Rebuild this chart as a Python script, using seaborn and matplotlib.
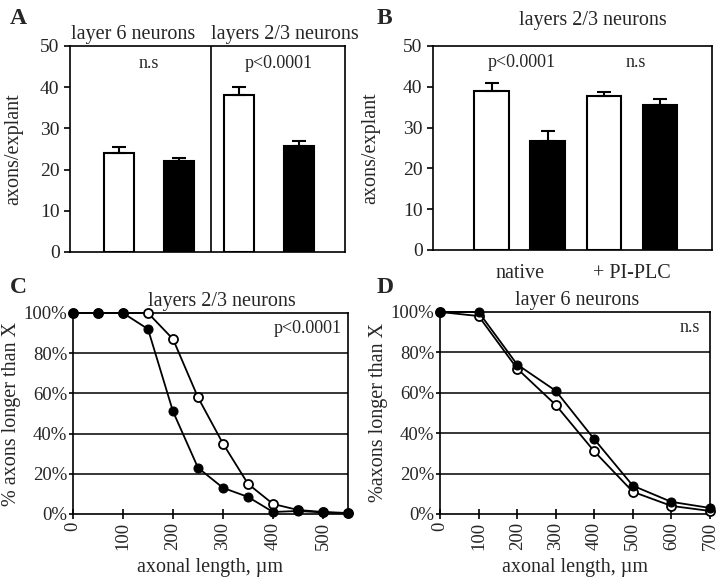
import numpy as np
import pandas as pd
import matplotlib
matplotlib.use('Agg')
import matplotlib.pyplot as plt
import seaborn as sns

# Panel A: axons per explant, layer 6 vs layers 2/3 (white = control, black = treated)
a_labels = ['L6 control', 'L6 treated', 'L2/3 control', 'L2/3 treated']
a_means = [24.0, 22.0, 38.0, 25.8]
a_err = [1.4, 0.7, 2.0, 1.1]
a_colors = ['white', 'black', 'white', 'black']

# Panel B: layers 2/3, native vs PI-PLC
b_labels = ['native control', 'native treated', 'PI-PLC control', 'PI-PLC treated']
b_means = [39.0, 26.7, 37.8, 35.5]
b_err = [2.0, 2.5, 1.0, 1.6]
b_colors = ['white', 'black', 'white', 'black']

# Panel C: layers 2/3 cumulative axon length
c_len = [0, 50, 100, 150, 200, 250, 300, 350, 400, 450, 500, 550]
c_white = [100, 100, 100, 100, 87, 58, 35, 15, 5, 2, 1, 0.5]
c_black = [100, 100, 100, 92, 51, 23, 13, 8.5, 1, 1.5, 0.8, 0.3]

# Panel D: layer 6 cumulative axon length
d_len = [0, 100, 200, 300, 400, 500, 600, 700]
d_white = [100, 98, 72, 54, 31, 11, 4, 1.5]
d_black = [100, 100, 74, 61, 37, 14, 6, 3]

sns.set_style('ticks')
plt.rcParams['font.family'] = ['Liberation Serif', 'DejaVu Serif']
plt.rcParams['axes.linewidth'] = 1.2
plt.rcParams['mathtext.fontset'] = 'stix'

fig = plt.figure(figsize=(7.2, 5.85), dpi=100)
W, H = 720, 585


def box(x0, y0, x1, y1):
    return [x0 / W, 1 - y1 / H, (x1 - x0) / W, (y1 - y0) / H]


def bar_panel(ax, labels, means, errs, colors, width):
    sns.barplot(x=labels, y=means, hue=labels, palette=colors, edgecolor='black',
                linewidth=1.5, width=width, legend=False, ax=ax, errorbar=None)
    pos = np.arange(len(means))
    ax.errorbar(pos, means, yerr=[np.zeros(len(errs)), errs], fmt='none',
                ecolor='black', elinewidth=1.5, capsize=5, capthick=1.5, zorder=1)
    ax.set_ylim(0, 50)
    ax.set_yticks([0, 10, 20, 30, 40, 50])
    ax.tick_params(axis='y', labelsize=14, direction='out', length=4, width=1.2, color='black')
    ax.set_ylabel('axons/explant', fontsize=14.5)
    for s in ax.spines.values():
        s.set_visible(True)
        s.set_color('black')


# ---- A ----
axA = fig.add_axes(box(70, 46, 345, 252))
bar_panel(axA, a_labels, a_means, a_err, a_colors, 0.5)
axA.set_xlim(-0.82, 3.77)
axA.set_xticks([])
axA.axvline(1.53, color='black', lw=1.2)
axA.yaxis.labelpad = 12
axA.text(0.23, 1.01, 'layer 6 neurons', transform=axA.transAxes, ha='center', va='bottom', fontsize=14.5)
axA.text(0.78, 1.01, 'layers 2/3 neurons', transform=axA.transAxes, ha='center', va='bottom', fontsize=14.5)
axA.text(0.287, 0.917, 'n.s', transform=axA.transAxes, ha='center', va='center', fontsize=13)
axA.text(0.76, 0.917, 'p<0.0001', transform=axA.transAxes, ha='center', va='center', fontsize=13)

# ---- B ----
axB = fig.add_axes(box(433, 46, 712, 250))
bar_panel(axB, b_labels, b_means, b_err, b_colors, 0.62)
axB.set_xlim(-1.05, 3.93)
axB.set_xticks([0.5, 2.5], ['native', '+ PI-PLC'])
axB.tick_params(axis='x', length=0, pad=10, labelsize=14.5)
axB.yaxis.labelpad = 16
axB.text(0.573, 1.127, 'layers 2/3 neurons', transform=axB.transAxes, ha='center', va='center', fontsize=14.5)
axB.text(0.319, 0.917, 'p<0.0001', transform=axB.transAxes, ha='center', va='center', fontsize=13)
axB.text(0.728, 0.917, 'n.s', transform=axB.transAxes, ha='center', va='center', fontsize=13)


def line_panel(ax, x, white, black, xmax, xticks, ylabel):
    ax.set_axisbelow(True)
    for g in [20, 40, 60, 80]:
        ax.axhline(g, color='black', lw=1.1, zorder=0)
    sns.lineplot(x=x, y=white, color='black', lw=1.3, marker='o', markersize=6.5,
                 markerfacecolor='white', markeredgecolor='black', markeredgewidth=1.3,
                 clip_on=False, zorder=3, ax=ax)
    sns.lineplot(x=x, y=black, color='black', lw=1.3, marker='o', markersize=6.5,
                 markerfacecolor='black', markeredgecolor='black',
                 clip_on=False, zorder=4, ax=ax)
    ax.set_xlim(0, xmax)
    ax.set_ylim(0, 100)
    ax.set_yticks([0, 20, 40, 60, 80, 100], ['0%', '20%', '40%', '60%', '80%', '100%'])
    ax.set_xticks(xticks, [str(t) for t in xticks], rotation=90)
    ax.tick_params(axis='y', labelsize=13.5, direction='out', length=3, width=1.2, pad=1, color='black')
    ax.tick_params(axis='x', labelsize=13.5, direction='inout', length=7, width=1.2, pad=2, color='black')
    ax.set_xlabel('axonal length, µm', fontsize=14.5, labelpad=6)
    ax.set_ylabel(ylabel, fontsize=14.5, labelpad=2)
    for s in ax.spines.values():
        s.set_visible(True)
        s.set_color('black')


# ---- C ----
axC = fig.add_axes(box(73, 313, 348, 514))
line_panel(axC, c_len, c_white, c_black, 550, [0, 100, 200, 300, 400, 500], '% axons longer than X')
axC.text(0.54, 1.01, 'layers 2/3 neurons', transform=axC.transAxes, ha='center', va='bottom', fontsize=14.5)
axC.text(0.978, 0.925, 'p<0.0001', transform=axC.transAxes, ha='right', va='center', fontsize=13)

# ---- D ----
axD = fig.add_axes(box(440, 312, 710, 514))
line_panel(axD, d_len, d_white, d_black, 700, [0, 100, 200, 300, 400, 500, 600, 700], '%axons longer than X')
axD.text(0.507, 1.01, 'layer 6 neurons', transform=axD.transAxes, ha='center', va='bottom', fontsize=14.5)
axD.text(0.963, 0.925, 'n.s', transform=axD.transAxes, ha='right', va='center', fontsize=13)

# panel letters
for lbl, x, y in [('A', 10, 8), ('B', 377, 8), ('C', 10, 277), ('D', 377, 277)]:
    fig.text(x / W, 1 - y / H, lbl, fontsize=17, fontweight='bold', ha='left', va='top')

fig.savefig('out.png', dpi=100)
